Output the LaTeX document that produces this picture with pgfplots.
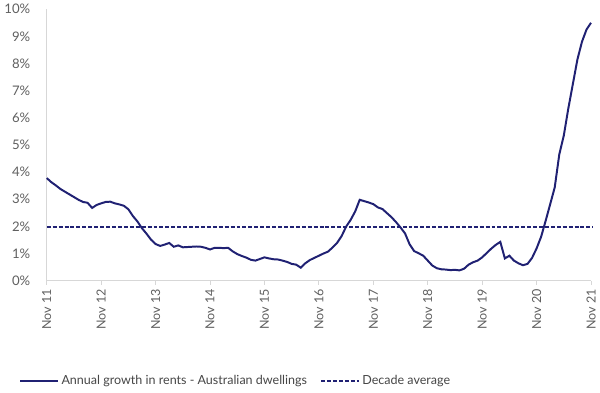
\documentclass[border=0pt]{standalone}
\usepackage{pgfplots}
\pgfplotsset{compat=1.18}
\usepackage{fontspec}
\setmainfont{Lato}
\definecolor{navy}{RGB}{32,33,115}
\definecolor{tickgrey}{RGB}{95,95,95}
\definecolor{axisgrey}{RGB}{215,215,215}
\definecolor{legtext}{RGB}{70,70,70}
\begin{document}
\begin{tikzpicture}
\begin{axis}[
  scale only axis,
  width=413pt, height=206pt,
  xmin=0, xmax=120, ymin=0, ymax=10,
  axis x line=bottom, axis y line=left,
  axis line style={-, axisgrey, line width=0.8pt},
  xtick={0,12,...,120},
  xticklabels={Nov 11,Nov 12,Nov 13,Nov 14,Nov 15,Nov 16,Nov 17,Nov 18,Nov 19,Nov 20,Nov 21},
  x tick label style={rotate=90, anchor=east, font=\fontsize{9.5}{11}\selectfont, text=tickgrey},
  x tick style={axisgrey, line width=0.8pt},
  tick align=outside, major tick length=3pt,
  ytick={0,1,...,10},
  yticklabels={0\%,1\%,2\%,3\%,4\%,5\%,6\%,7\%,8\%,9\%,10\%},
  y tick label style={font=\fontsize{10}{12}\selectfont, text=tickgrey},
  ytick style={draw=none},
  yticklabel style={xshift=-6pt},
  clip=false,
  legend style={draw=none, at={(-0.058,-0.37)}, anchor=west, legend columns=2,
    font=\fontsize{9.5}{11}\selectfont, text=legtext,
    /tikz/every even column/.append style={column sep=8pt}},
  legend image code/.code={\draw[#1] (0cm,0cm) -- (1cm,0cm);},
]
\addplot[navy, line width=1.5pt] coordinates {
(0,3.78)(1,3.63)(2,3.51)(3,3.38)(4,3.28)(5,3.18)(6,3.08)(7,2.98)(8,2.90)(9,2.87)
(10,2.68)(11,2.79)(12,2.85)(13,2.90)(14,2.91)(15,2.85)(16,2.81)(17,2.76)(18,2.63)(19,2.38)
(20,2.18)(21,1.93)(22,1.73)(23,1.51)(24,1.35)(25,1.28)(26,1.33)(27,1.39)(28,1.25)(29,1.30)
(30,1.23)(31,1.24)(32,1.25)(33,1.26)(34,1.25)(35,1.21)(36,1.15)(37,1.21)(38,1.21)(39,1.20)
(40,1.21)(41,1.08)(42,0.98)(43,0.91)(44,0.85)(45,0.77)(46,0.74)(47,0.80)(48,0.86)(49,0.82)
(50,0.79)(51,0.78)(52,0.74)(53,0.69)(54,0.62)(55,0.59)(56,0.48)(57,0.64)(58,0.76)(59,0.84)
(60,0.92)(61,1.00)(62,1.07)(63,1.22)(64,1.39)(65,1.64)(66,1.99)(67,2.24)(68,2.55)(69,2.98)
(70,2.93)(71,2.88)(72,2.82)(73,2.70)(74,2.64)(75,2.49)(76,2.34)(77,2.16)(78,1.96)(79,1.74)
(80,1.34)(81,1.09)(82,1.01)(83,0.92)(84,0.74)(85,0.56)(86,0.46)(87,0.42)(88,0.41)(89,0.39)
(90,0.40)(91,0.38)(92,0.44)(93,0.59)(94,0.68)(95,0.74)(96,0.86)(97,1.02)(98,1.18)(99,1.32)
(100,1.43)(101,0.82)(102,0.92)(103,0.74)(104,0.64)(105,0.57)(106,0.62)(107,0.84)(108,1.19)(109,1.62)
(110,2.21)(111,2.82)(112,3.44)(113,4.65)(114,5.35)(115,6.35)(116,7.25)(117,8.15)(118,8.80)(119,9.25)
(120,9.50)
};
\addlegendentry{Annual growth in rents - Australian dwellings}
\addplot[navy, line width=1.5pt, dash pattern=on 3pt off 1.5pt] coordinates {(0,1.97)(120.5,1.97)};
\addlegendentry{Decade average}
\end{axis}
\end{tikzpicture}
\end{document}
